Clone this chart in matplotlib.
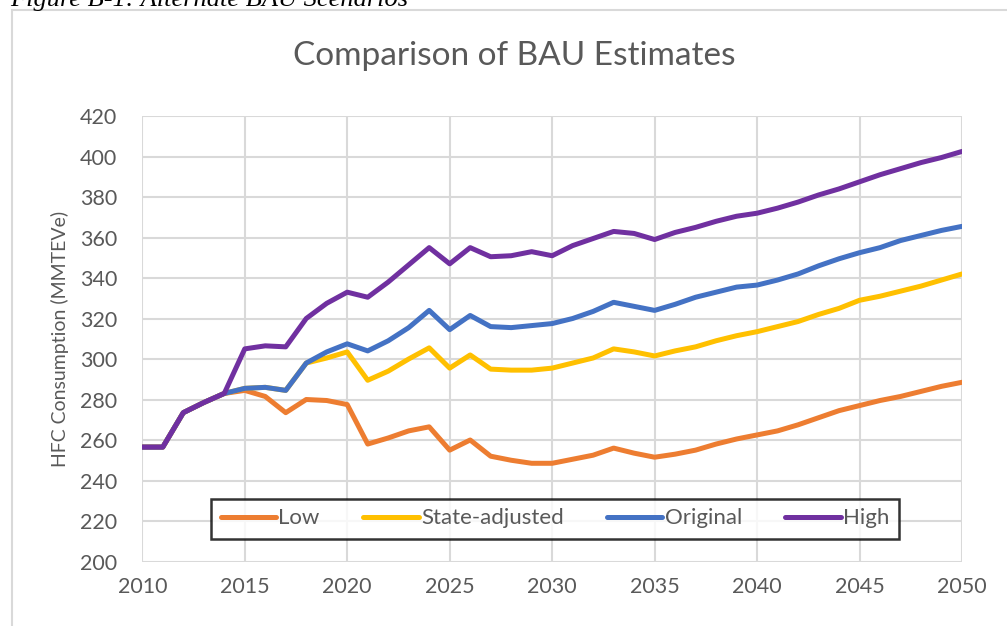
import matplotlib
matplotlib.use("Agg")
import matplotlib.pyplot as plt
from matplotlib.patches import Rectangle

# =============================================
# DATA
# =============================================
years = list(range(2010, 2051))

low = [256.5, 256.5, 273.5, 278.5, 283, 284.5, 281.5, 273.5, 280, 279.5,
       277.5, 258, 261, 264.5, 266.5, 255, 260, 252, 250, 248.5,
       248.5, 250.5, 252.5, 256, 253.5, 251.5, 253, 255, 258, 260.5,
       262.5, 264.5, 267.5, 271, 274.5, 277, 279.5, 281.5, 284, 286.5,
       288.5]

state_adjusted = [256.5, 256.5, 273.5, 278.5, 283, 285.5, 286, 284.5, 298, 300.5,
                  303.5, 289.5, 294, 300, 305.5, 295.5, 302, 295, 294.5, 294.5,
                  295.5, 298, 300.5, 305, 303.5, 301.5, 304, 306, 309, 311.5,
                  313.5, 316, 318.5, 322, 325, 329, 331, 333.5, 336, 339,
                  342]

original = [256.5, 256.5, 273.5, 278.5, 283, 285.5, 286, 284.5, 298, 303.5,
            307.5, 304, 309, 315.5, 324, 314.5, 321.5, 316, 315.5, 316.5,
            317.5, 320, 323.5, 328, 326, 324, 327, 330.5, 333, 335.5,
            336.5, 339, 342, 346, 349.5, 352.5, 355, 358.5, 361, 363.5,
            365.5]

high = [256.5, 256.5, 273.5, 278.5, 283, 305, 306.5, 306, 320, 327.5,
        333, 330.5, 338, 346.5, 355, 347, 355, 350.5, 351, 353,
        351, 356, 359.5, 363, 362, 359, 362.5, 365, 368, 370.5,
        372, 374.5, 377.5, 381, 384, 387.5, 391, 394, 397, 399.5,
        402.5]

series_names  = ['Low', 'State-adjusted', 'Original', 'High']
series_values = [low, state_adjusted, original, high]
series_colors = ['#ED7D31', '#FFC000', '#4472C4', '#7030A0']

x_ticks = list(range(2010, 2051, 5))
y_ticks = list(range(200, 421, 20))

# =============================================
# FIGURE
# =============================================
plt.rcParams['font.family'] = ['Lato', 'DejaVu Sans']
TXT = '#595959'
GRID = '#D9D9D9'

W, H = 1007, 626
fig = plt.figure(figsize=(W / 100, H / 100), dpi=100)

# chart-area frame (runs off the right/bottom edge like the screenshot)
fig.patches.append(Rectangle((12 / W, -0.05), 1.1, 1 - 10 / H + 0.05,
                             transform=fig.transFigure, fill=False,
                             edgecolor=GRID, linewidth=1.5))

# caption, mostly cut off at the top (as in the screenshot)
fig.text(10 / W, 1 - 6 / H, 'Figure B-1: Alternate BAU Scenarios',
         family='Liberation Serif', style='italic', fontsize=19,
         color='black', ha='left', va='baseline')

ax = fig.add_axes([142.3 / W, (H - 561.5) / H, (962 - 142.3) / W, (561.5 - 116) / H])

for name, vals, col in zip(series_names, series_values, series_colors):
    ax.plot(years, vals, color=col, linewidth=3.6, label=name,
            solid_joinstyle='round', solid_capstyle='round')

ax.set_xlim(2010, 2050)
ax.set_ylim(200, 420)
ax.set_xticks(x_ticks)
ax.set_yticks(y_ticks)
ax.grid(True, color=GRID, linewidth=1.5)
ax.set_axisbelow(True)
for s in ax.spines.values():
    s.set_visible(False)
ax.tick_params(length=0, labelsize=15.5, labelcolor=TXT)
ax.tick_params(axis='y', pad=18)
ax.tick_params(axis='x', pad=11)

ax.set_ylabel('HFC Consumption (MMTEVe)', fontsize=14, color=TXT, labelpad=8)
fig.text(514 / W, 1 - 56 / H, 'Comparison of BAU Estimates', fontsize=24,
         color=TXT, ha='center', va='center')

leg = ax.legend(loc='center', bbox_to_anchor=((213 + 897) / 2 / W, 1 - 518.5 / H),
                bbox_transform=fig.transFigure, ncol=4, fontsize=16,
                frameon=True, fancybox=False, handlelength=2.5,
                handletextpad=0.1, columnspacing=1.95, borderpad=0.45)
leg.get_frame().set_edgecolor('black')
leg.get_frame().set_linewidth(1.8)
for t in leg.get_texts():
    t.set_color(TXT)

fig.savefig('out.png', dpi=100)
